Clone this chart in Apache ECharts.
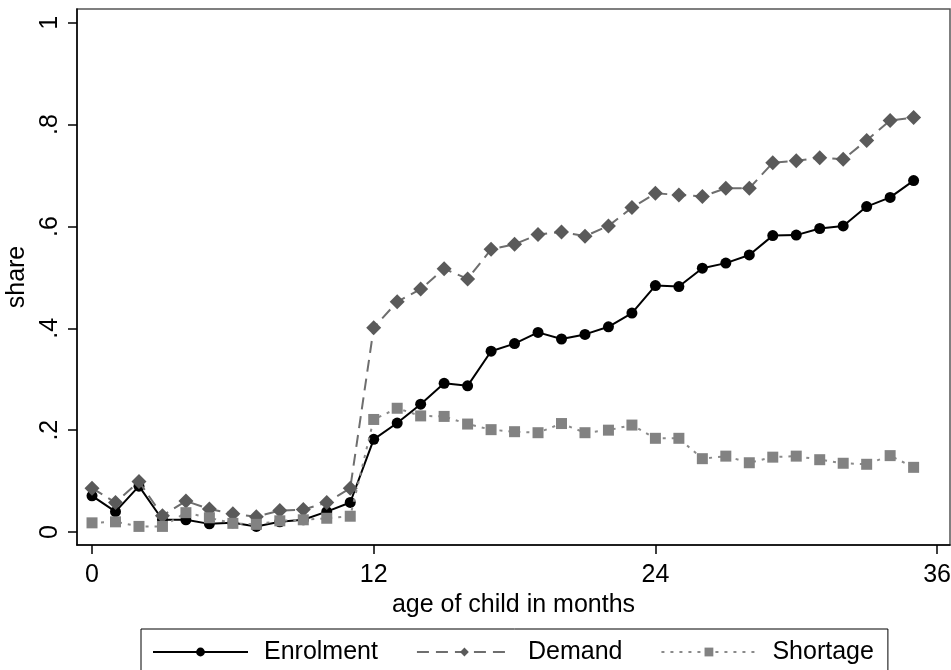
<!DOCTYPE html>
<html>
<head>
<meta charset="utf-8">
<script src="https://cdn.jsdelivr.net/npm/echarts@6/dist/echarts.min.js"></script>
<style>
html,body{margin:0;padding:0;background:#fff;}
#chart{width:951px;height:670px;}
</style>
</head>
<body>
<div id="chart"></div>
<script>
const months = [0,1,2,3,4,5,6,7,8,9,10,11,12,13,14,15,16,17,18,19,20,21,22,23,24,25,26,27,28,29,30,31,32,33,34,35];
const enrolment = [0.071,0.040,0.090,0.024,0.024,0.016,0.018,0.011,0.020,0.024,0.040,0.058,
  0.182,0.214,0.251,0.292,0.287,0.355,0.370,0.392,0.379,0.388,0.403,0.430,
  0.484,0.482,0.518,0.528,0.544,0.582,0.583,0.596,0.601,0.639,0.657,0.690];
const demand = [0.086,0.058,0.099,0.032,0.061,0.045,0.036,0.030,0.042,0.044,0.058,0.086,
  0.401,0.452,0.477,0.517,0.497,0.555,0.565,0.584,0.589,0.581,0.601,0.637,
  0.665,0.662,0.659,0.675,0.675,0.725,0.729,0.735,0.732,0.769,0.808,0.814];
const shortage = [0.018,0.020,0.011,0.011,0.038,0.028,0.017,0.015,0.022,0.024,0.027,0.031,
  0.221,0.243,0.228,0.227,0.212,0.201,0.197,0.195,0.213,0.195,0.200,0.210,
  0.184,0.184,0.144,0.149,0.136,0.147,0.149,0.142,0.135,0.133,0.150,0.127];
const xTicks = [0,12,24,36];
const yTicks = [0,0.2,0.4,0.6,0.8,1];
const seriesNames = ['Enrolment','Demand','Shortage'];

const pairs = arr => months.map((m,i) => [m, arr[i]]);
const FONT = '"Liberation Sans", Arial, Helvetica, sans-serif';

const chart = echarts.init(document.getElementById('chart'), null, {renderer:'canvas'});
chart.setOption({
  animation:false,
  backgroundColor:'#fff',
  textStyle:{fontFamily:FONT},
  grid:{left:77, right:1, top:9, bottom:125, show:true, borderColor:'#555', borderWidth:1.5,
        containLabel:false, outerBoundsMode:'none'},
  xAxis:{
    type:'value', min:-0.64, max:36.55,
    name:'age of child in months', nameLocation:'middle', nameGap:47,
    nameTextStyle:{fontSize:25, color:'#000', fontFamily:FONT},
    axisLine:{show:true, onZero:false, lineStyle:{color:'#000', width:1.5}},
    axisTick:{show:true, inside:false, length:9, customValues:xTicks, lineStyle:{color:'#000', width:1.5}},
    axisLabel:{customValues:xTicks, fontSize:25, color:'#000', margin:18, fontFamily:FONT},
    splitLine:{show:false}
  },
  yAxis:{
    type:'value', min:-0.0255, max:1.027,
    name:'share', nameLocation:'middle', nameGap:40,
    nameTextStyle:{fontSize:25, color:'#000', fontFamily:FONT},
    axisLine:{show:true, onZero:false, lineStyle:{color:'#000', width:1.5}},
    axisTick:{show:true, inside:false, length:9, customValues:yTicks, lineStyle:{color:'#000', width:1.5}},
    axisLabel:{customValues:yTicks, rotate:90, fontSize:25, color:'#000', margin:14, fontFamily:FONT,
      formatter:v => (Math.abs(v) < 1e-9 ? '0' : (Math.abs(v-1) < 1e-9 ? '1' : v.toFixed(1).replace(/^0/,'')))},
    splitLine:{show:false}
  },
  legend:{
    data:seriesNames,
    left:141, top:629,
    orient:'horizontal',
    padding:[8,14,40,11],
    borderColor:'#000', borderWidth:1,
    itemWidth:95, itemHeight:11, itemGap:38,
    textStyle:{fontSize:25, color:'#000', fontFamily:FONT, padding:[0,0,0,11], lineHeight:30}
  },
  series:[
    {
      name:seriesNames[0], type:'line', data:pairs(enrolment),
      symbol:'circle', symbolSize:11,
      lineStyle:{color:'#000', width:2},
      itemStyle:{color:'#000'},
      z:2
    },
    {
      name:seriesNames[1], type:'line', data:pairs(demand),
      symbol:'diamond', symbolSize:15,
      lineStyle:{color:'#6e6e6e', width:2, type:[12,7]},
      itemStyle:{color:'#5a5a5a'},
      z:3
    },
    {
      name:seriesNames[2], type:'line', data:pairs(shortage),
      symbol:'rect', symbolSize:11,
      lineStyle:{color:'#8a8a8a', width:2, type:[3,6]},
      itemStyle:{color:'#828282'},
      z:4
    }
  ]
});
</script>
</body>
</html>
